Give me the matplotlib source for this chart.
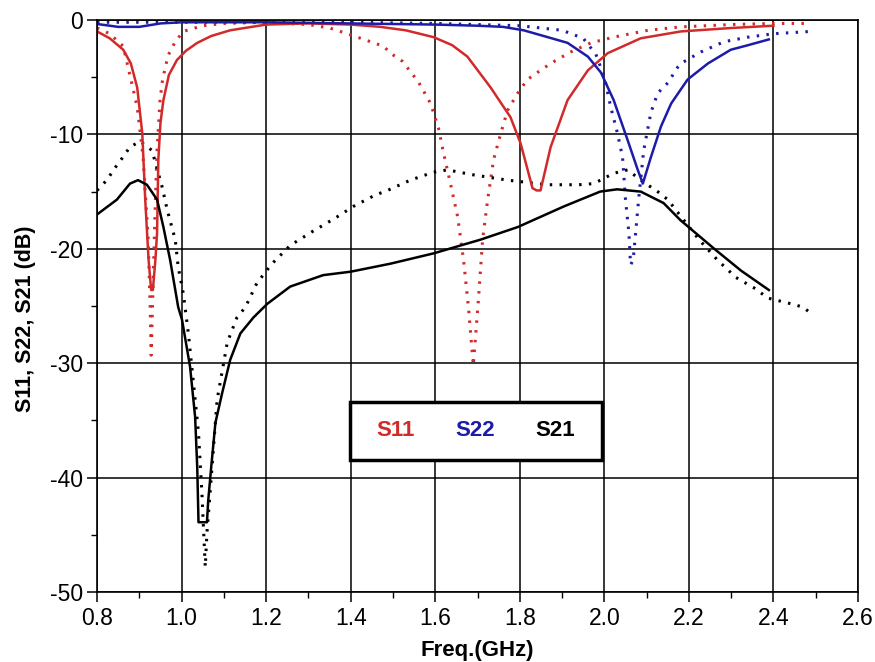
import numpy as np
import matplotlib
matplotlib.use('Agg')
import matplotlib.pyplot as plt
from matplotlib.patches import Rectangle
from matplotlib.ticker import MultipleLocator

plt.rcParams['font.family'] = ['Liberation Sans', 'DejaVu Sans']
plt.rcParams['axes.unicode_minus'] = False

# -- curves -- #
s11_solid_f = [0.80, 0.83, 0.862, 0.88, 0.895, 0.907, 0.914, 0.922, 0.928, 0.932, 0.938, 0.942, 0.945,
               0.95, 0.957, 0.97, 0.989, 1.01, 1.037, 1.07, 1.115, 1.2, 1.3, 1.4, 1.47, 1.53, 1.596, 1.64,
               1.676, 1.731, 1.778, 1.802, 1.83, 1.84, 1.849, 1.873, 1.913, 1.961, 2.008, 2.086, 2.181,
               2.3, 2.4]
s11_solid_db = [-1.0, -1.6, -2.6, -3.8, -5.9, -9.9, -15.7, -21.0, -23.6, -23.6, -21.0, -18.6, -12.2,
                -9.0, -7.0, -4.8, -3.5, -2.7, -2.0, -1.4, -0.9, -0.4, -0.3, -0.4, -0.6, -0.9, -1.5, -2.2,
                -3.2, -5.9, -8.5, -10.8, -14.7, -14.9, -14.9, -11.1, -7.0, -4.4, -2.9, -1.6, -1.0,
                -0.7, -0.5]

s11_dot_f = [0.80, 0.83, 0.862, 0.895, 0.909, 0.921, 0.926, 0.928, 0.932, 0.937, 0.942, 0.949, 0.955,
             0.968, 0.985, 1.004, 1.05, 1.1, 1.2, 1.3, 1.35, 1.392, 1.447, 1.478, 1.494, 1.522, 1.541,
             1.560, 1.589, 1.608, 1.620, 1.636, 1.653, 1.667, 1.679, 1.690, 1.702, 1.712, 1.724, 1.738,
             1.755, 1.771, 1.795, 1.818, 1.849, 1.873, 1.920, 1.968, 2.022, 2.103, 2.181, 2.3, 2.4, 2.482]
s11_dot_db = [-0.7, -1.2, -2.3, -7.6, -12.0, -19.2, -25.6, -29.3, -24.0, -17.0, -11.4, -7.0, -5.2,
              -3.1, -1.9, -1.0, -0.5, -0.3, -0.2, -0.4, -0.7, -1.2, -1.9, -2.3, -2.9, -3.6, -4.5,
              -5.4, -7.3, -9.5, -11.7, -14.3, -17.2, -21.0, -25.3, -30.2, -24.5, -19.2, -15.7, -12.2,
              -9.9, -7.9, -6.4, -5.2, -4.4, -3.8, -2.8, -2.0, -1.5, -0.9, -0.6, -0.4, -0.3, -0.3]

s22_solid_f = [0.80, 0.85, 0.9, 0.95, 1.0, 1.2, 1.4, 1.6, 1.7, 1.76, 1.809, 1.866, 1.913, 1.961, 1.992,
               2.022, 2.055, 2.079, 2.091, 2.11, 2.134, 2.158, 2.197, 2.245, 2.299, 2.340, 2.389]
s22_solid_db = [-0.35, -0.6, -0.6, -0.3, -0.2, -0.2, -0.3, -0.4, -0.5, -0.6, -0.9, -1.5, -2.0, -3.2, -4.6,
                -7.0, -10.5, -13.1, -14.3, -12.0, -9.3, -7.3, -5.2, -3.8, -2.6, -2.2, -1.7]

s22_dot_f = [0.80, 1.0, 1.2, 1.4, 1.6, 1.8, 1.9, 1.95, 1.98, 2.0, 2.015, 2.031, 2.043, 2.05, 2.058,
             2.062, 2.068, 2.074, 2.081, 2.093, 2.110, 2.126, 2.150, 2.174, 2.181, 2.228, 2.283, 2.34,
             2.40, 2.489]
s22_dot_db = [-0.2, -0.2, -0.2, -0.2, -0.3, -0.5, -0.9, -1.6, -3.0, -5.0, -7.6, -9.9, -12.0, -15.7, -18.6,
              -21.4, -21.0, -18.6, -15.7, -11.4, -8.1, -6.4, -5.5, -4.1, -3.8, -2.8, -1.9, -1.5,
              -1.2, -1.0]

s21_solid_f = [0.80, 0.847, 0.878, 0.897, 0.918, 0.942, 0.957, 0.973, 0.992, 1.001, 1.02, 1.032, 1.037,
               1.04, 1.06, 1.063, 1.07, 1.08, 1.096, 1.115, 1.139, 1.17, 1.203, 1.257, 1.335, 1.40,
               1.494, 1.596, 1.707, 1.795, 1.904, 1.99, 2.03, 2.086, 2.14, 2.18, 2.26, 2.323, 2.389]
s21_solid_db = [-17.0, -15.7, -14.3, -14.0, -14.4, -15.7, -18.1, -21.0, -25.1, -26.2, -30.3, -34.7, -39.1,
                -43.9, -43.9, -42.0, -39.1, -35.2, -32.6, -29.7, -27.4, -26.0, -24.8, -23.3, -22.3, -22.0,
                -21.3, -20.4, -19.2, -18.1, -16.3, -15.0, -14.8, -15.0, -16.0, -17.5, -20.0, -21.9, -23.6]

s21_dot_f = [0.80, 0.823, 0.843, 0.859, 0.878, 0.902, 0.930, 0.954, 0.966, 0.985, 0.992, 1.004, 1.016,
             1.028, 1.04, 1.048, 1.052, 1.056, 1.06, 1.066, 1.075, 1.084, 1.108, 1.131, 1.151, 1.178,
             1.214, 1.257, 1.309, 1.364, 1.406, 1.458, 1.487, 1.541, 1.596, 1.629, 1.684, 1.771, 1.866,
             1.94, 1.975, 2.022, 2.055, 2.086, 2.126, 2.15, 2.224, 2.268, 2.311, 2.358, 2.386, 2.441,
             2.47, 2.494]
s21_dot_db = [-14.9, -14.0, -12.9, -12.1, -11.1, -10.6, -11.4, -14.6, -16.6, -19.2, -21.6, -23.9, -27.4,
              -31.7, -36.1, -41.3, -44.6, -47.8, -44.8, -42.0, -37.6, -33.2, -28.2, -26.0, -25.1, -23.0,
              -21.3, -19.7, -18.5, -17.3, -16.3, -15.3, -14.9, -14.0, -13.3, -13.1, -13.5, -14.0, -14.4,
              -14.4, -14.3, -13.4, -13.1, -14.0, -15.0, -15.7, -19.2, -21.0, -22.5, -23.5, -24.3, -24.8,
              -25.1, -25.8]

x_ticks = [0.8, 1.0, 1.2, 1.4, 1.6, 1.8, 2.0, 2.2, 2.4, 2.6]
y_ticks = [0, -10, -20, -30, -40, -50]
legend_names = ['S11', 'S22', 'S21']

RED = '#d22a2a'
BLUE = '#1c1ca8'
BLACK = '#000000'
dots = (0, (0.8, 2.4))

fig = plt.figure(figsize=(8.75, 6.62), dpi=100)
ax = fig.add_axes([0.1109, 0.1057, 0.8697, 0.8641])

ax.plot(s22_dot_f, s22_dot_db, color=BLUE, lw=2.2, ls=dots)
ax.plot(s11_dot_f, s11_dot_db, color=RED, lw=2.2, ls=dots)
ax.plot(s21_dot_f, s21_dot_db, color=BLACK, lw=2.2, ls=dots)
ax.plot(s11_solid_f, s11_solid_db, color=RED, lw=1.8)
ax.plot(s22_solid_f, s22_solid_db, color=BLUE, lw=1.8)
ax.plot(s21_solid_f, s21_solid_db, color=BLACK, lw=1.8)

ax.set_xlim(0.8, 2.6)
ax.set_ylim(-50, 0)
ax.set_xticks(x_ticks)
ax.set_xticklabels(['%.1f' % v for v in x_ticks])
ax.set_yticks(y_ticks)
ax.xaxis.set_minor_locator(MultipleLocator(0.1))
ax.yaxis.set_minor_locator(MultipleLocator(5))
ax.grid(True, which='major', color='black', lw=1.1)
ax.set_axisbelow(True)
ax.tick_params(which='major', direction='out', length=7, width=1.1, labelsize=16.5, pad=3)
ax.tick_params(axis='x', which='major', pad=4)
ax.tick_params(which='minor', direction='out', length=4, width=1.0)
for sp in ax.spines.values():
    sp.set_linewidth(1.2)

ax.set_xlabel('Freq.(GHz)', fontsize=16, fontweight='bold', labelpad=7)
ax.set_ylabel('S11, S22, S21 (dB)', fontsize=15.5, fontweight='bold')
ax.yaxis.set_label_coords(-0.08, 0.477)

# -- legend box -- #
box = Rectangle((0.3325, 0.2308), 0.3311, 0.1014, transform=ax.transAxes, facecolor='white',
                edgecolor='black', lw=2.5, zorder=5)
ax.add_patch(box)
for name, col, xp in zip(legend_names, [RED, BLUE, BLACK], [0.3916, 0.4967, 0.6018]):
    ax.text(xp, 0.2815, name, color=col, fontsize=16, fontweight='bold', ha='center', va='center',
            transform=ax.transAxes, zorder=6)

fig.savefig('out.png', dpi=100)
